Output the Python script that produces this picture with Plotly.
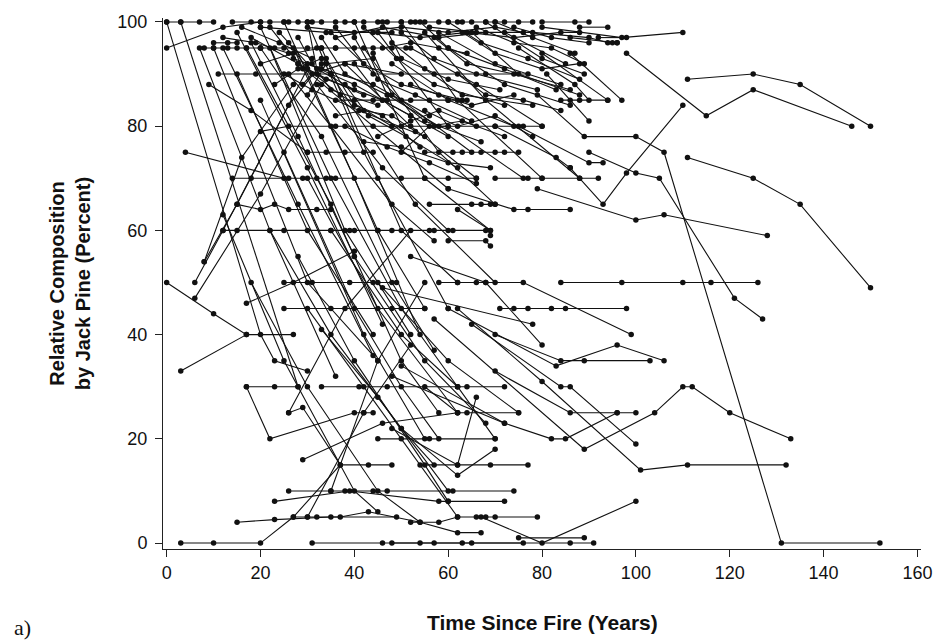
import plotly.graph_objects as go

# Re-measured stands: each trajectory is a list of (years since fire, % jack pine)

old_stands = [
    [(111, 89), (125, 90), (135, 88), (150, 80)],
    [(98, 94), (115, 82), (125, 87), (146, 80)],
    [(111, 74), (125, 70), (135, 65), (150, 49)],
    [(79, 86), (89, 78), (100, 78), (106, 75), (131, 0), (152, 0)],
    [(86, 72), (93, 65), (98, 71), (110, 84)],
    [(79, 68), (100, 62), (106, 63), (128, 59)],
    [(84, 50), (97, 50), (110, 50), (116, 50), (126, 50)],
    [(90, 75), (100, 71), (105, 70), (121, 47), (127, 43)],
    [(57, 43), (89, 18), (104, 25), (110, 30), (112, 30), (120, 25), (133, 20)],
    [(62, 45), (80, 31), (101, 14), (111, 15), (132, 15)],
    [(67, 5), (80, 0), (100, 8)],
    [(65, 42), (84, 30), (86, 30), (100, 19)],
    [(70, 40), (84, 35), (89, 35), (103, 35)],
    [(60, 45), (83, 34), (96, 38), (106, 35)],
    [(71, 45), (74, 45), (77, 45), (82, 45), (85, 45), (98, 45)],
    [(58, 50), (62, 50), (66, 50), (68, 50), (76, 50), (99, 40)],
    [(52, 55), (68, 50), (80, 38)],
    [(46, 49), (78, 42)],
    [(70, 33), (86, 25), (96, 25), (100, 25)],
    [(50, 34), (72, 23), (82, 20), (85, 20), (96, 25)],
]

late_upper = [
    [(80, 99), (97, 97), (110, 98)],
    [(88, 99), (94, 99)],
    [(86, 97), (95, 96), (96, 96)],
    [(92, 97), (98, 97)],
    [(80, 94), (94, 85)],
    [(86, 94), (97, 85)],
    [(81, 90), (90, 81)],
    [(84, 85), (86, 85), (88, 85), (94, 85)],
    [(70, 80), (83, 74), (86, 72)],
    [(75, 80), (90, 73), (93, 73)],
    [(70, 70), (77, 70), (80, 70), (88, 70), (92, 70)],
    [(56, 65), (65, 65), (67, 65), (69, 65), (70, 65)],
    [(60, 68), (74, 64), (77, 64), (86, 64)],
    [(60, 58), (68, 58), (69, 57)],
    [(62, 64), (69, 60), (69, 59)],
    [(57, 80), (70, 80), (76, 80), (80, 80)],
    [(44, 90), (57, 90), (68, 90), (77, 90)],
    [(55, 75), (61, 75), (63, 75), (67, 75), (70, 75), (72, 75), (75, 75)],
]

top_rows = [
    [(0, 100), (3, 100), (7, 100), (10, 100)],
    [(14, 100), (18, 100), (20, 100), (22, 100), (26, 100)],
    [(25, 100), (28, 100), (31, 100), (33, 100), (36, 100), (40, 100)],
    [(38, 100), (42, 100), (45, 100), (47, 100), (50, 100), (53, 100)],
    [(52, 100), (55, 100), (58, 100), (60, 100), (63, 100)],
    [(62, 100), (65, 100), (68, 100), (70, 100), (72, 100), (75, 100), (78, 100)],
    [(80, 100), (87, 100), (90, 100)],
    [(30, 99), (40, 98), (50, 99), (60, 98), (70, 99), (76, 98)],
    [(44, 98), (54, 97), (64, 98), (74, 97), (84, 98), (88, 98)],
    [(56, 99), (66, 98), (78, 98), (90, 97), (94, 96), (96, 96)],
    [(20, 99), (34, 98), (48, 98)],
    [(36, 97), (46, 99), (58, 97), (68, 98)],
    [(8, 95), (10, 95), (13, 95), (15, 95), (17, 95), (20, 95)],
    [(20, 95), (23, 95), (25, 95), (30, 95), (32, 95), (36, 95)],
    [(36, 95), (40, 95), (44, 95), (48, 95), (51, 95)],
    [(46, 95), (52, 96), (58, 95), (64, 94)],
    [(0, 95), (12, 99), (20, 100)],
    [(10, 96), (13, 96), (15, 96)],
]

dense_core = [
    [(24, 98), (30, 92), (40, 88), (52, 82)],
    [(26, 96), (30, 91), (37, 86), (48, 80)],
    [(28, 97), (31, 92), (35, 87), (45, 84)],
    [(18, 97), (28, 92), (32, 90), (42, 86)],
    [(22, 99), (29, 91), (34, 89), (46, 85)],
    [(30, 100), (32, 91), (40, 87)],
    [(27, 93), (33, 91), (44, 88), (56, 82)],
    [(29, 88), (31, 90), (38, 92), (50, 90)],
    [(30, 86), (34, 92), (44, 93)],
    [(25, 90), (31, 87), (41, 83), (55, 78)],
    [(33, 97), (38, 90), (47, 86), (58, 80)],
    [(36, 99), (42, 92), (50, 88), (63, 85)],
    [(40, 97), (45, 89), (53, 86), (65, 81)],
    [(42, 99), (49, 93), (57, 88), (72, 84)],
    [(46, 100), (50, 93), (60, 89), (71, 87)],
    [(48, 96), (55, 91), (63, 86), (78, 84)],
    [(50, 98), (57, 93), (66, 90), (79, 87)],
    [(54, 100), (60, 95), (72, 91), (83, 87)],
    [(57, 97), (64, 92), (74, 90), (86, 87)],
    [(60, 100), (67, 96), (77, 93), (88, 89)],
    [(63, 98), (70, 94), (80, 91), (88, 92)],
    [(66, 99), (74, 96), (82, 95), (89, 92)],
    [(70, 100), (78, 97), (87, 94)],
    [(74, 99), (82, 97), (90, 96)],
    [(34, 93), (40, 84), (46, 82), (54, 76)],
    [(38, 88), (43, 82), (51, 78), (62, 72)],
    [(40, 92), (46, 85), (52, 82), (60, 78)],
    [(44, 94), (48, 86), (55, 81), (67, 77)],
    [(16, 99), (24, 96), (31, 93)],
    [(12, 97), (19, 96), (26, 94)],
    [(20, 92), (27, 94), (33, 95)],
    [(23, 88), (28, 91), (33, 93)],
    [(36, 82), (42, 83), (48, 82), (53, 79)],
    [(45, 78), (52, 81), (58, 83), (66, 80)],
    [(50, 75), (56, 80), (63, 81), (72, 78)],
    [(52, 88), (58, 86), (65, 84), (74, 86)],
    [(55, 83), (62, 80), (70, 82), (78, 78)],
    [(62, 90), (68, 86), (76, 85), (84, 83)],
    [(38, 80), (47, 76), (56, 73), (66, 69)],
    [(42, 77), (50, 76), (60, 73), (69, 72)],
]

rows_mid = [
    [(9, 88), (18, 83), (30, 75)],
    [(11, 90), (19, 90), (35, 90)],
    [(20, 79), (26, 80), (36, 80), (50, 80), (60, 80)],
    [(4, 75), (25, 70)],
    [(8, 54), (16, 74), (27, 88)],
    [(14, 70), (18, 70), (26, 70), (29, 70), (32, 70), (34, 70)],
    [(36, 70), (45, 70), (50, 70), (55, 70), (60, 70), (66, 70)],
    [(30, 75), (34, 75), (38, 75), (44, 75)],
    [(36, 85), (40, 85), (44, 85), (47, 85), (52, 85), (56, 85), (60, 85), (64, 85)],
    [(15, 65), (20, 64), (23, 65), (26, 64), (32, 64), (35, 64)],
    [(12, 60), (15, 60), (25, 60), (35, 60), (39, 60)],
    [(40, 60), (45, 60), (48, 60), (56, 60), (57, 60), (61, 60), (68, 60)],
    [(25, 45), (35, 45), (48, 45), (55, 45)],
    [(25, 50), (31, 50), (39, 50), (44, 50), (49, 50)],
    [(17, 46), (27, 50), (40, 56)],
    [(3, 33), (17, 40)],
    [(0, 50), (10, 44), (17, 40), (27, 40)],
    [(6, 47), (20, 67), (33, 88)],
    [(6, 50), (12, 60), (26, 84), (33, 92)],
    [(8, 54), (15, 65), (30, 91)],
]

falling = [
    [(0, 100), (20, 40), (23, 35), (30, 33)],
    [(3, 100), (28, 30)],
    [(10, 95), (30, 50), (45, 35)],
    [(20, 99), (35, 70), (50, 45), (62, 30)],
    [(25, 100), (45, 60), (55, 45)],
    [(27, 95), (40, 70), (54, 40)],
    [(30, 100), (42, 75), (60, 45)],
    [(33, 95), (50, 60), (62, 50)],
    [(40, 100), (55, 70), (69, 60)],
    [(35, 90), (53, 65), (70, 50)],
    [(22, 95), (38, 60), (52, 40)],
    [(15, 90), (30, 60), (44, 40)],
    [(18, 96), (28, 78), (40, 55)],
    [(42, 95), (58, 75), (70, 65)],
    [(45, 98), (60, 80), (76, 70)],
    [(50, 100), (62, 85), (80, 70)],
    [(55, 98), (68, 85), (88, 70)],
    [(60, 95), (72, 88), (86, 84)],
    [(65, 98), (75, 90), (88, 86)],
    [(35, 98), (50, 85), (65, 75)],
    [(28, 92), (44, 80), (60, 68)],
    [(26, 90), (35, 80), (48, 65), (57, 58)],
    [(32, 88), (46, 72), (60, 60)],
    [(38, 92), (52, 80), (66, 70)],
    [(48, 92), (60, 85), (74, 80)],
    [(52, 95), (66, 88), (80, 80)],
    [(58, 98), (70, 92), (84, 88)],
    [(68, 100), (80, 93), (89, 90)],
    [(72, 98), (85, 92)],
    [(75, 95), (87, 88), (90, 85)],
    [(7, 95), (22, 60), (36, 32)],
    [(12, 95), (28, 65), (44, 36)],
    [(15, 98), (30, 72), (46, 42)],
    [(17, 95), (35, 65), (50, 35), (58, 25)],
    [(20, 95), (33, 78), (48, 50), (57, 37)],
]

lower = [
    [(3, 0), (10, 0), (20, 0), (27, 5), (37, 15), (43, 15), (48, 15)],
    [(54, 15), (62, 15), (69, 15), (77, 15)],
    [(15, 4), (23, 4.5), (35, 5), (49, 5)],
    [(27, 5), (30, 5), (32, 5), (37, 5), (43, 6), (54, 4), (62, 2), (67, 2)],
    [(23, 8), (38, 10), (39, 10), (58, 8), (60, 8), (72, 8)],
    [(26, 10), (35, 10), (44, 10), (47, 10), (61, 10), (74, 10)],
    [(29, 16), (46, 23), (62, 25)],
    [(17, 30), (22, 20), (40, 25), (42, 25), (44, 25)],
    [(26, 25), (29, 26), (37, 15)],
    [(17, 30), (23, 30), (28, 30)],
    [(33, 30), (41, 30), (47, 30), (62, 30), (64, 30), (72, 30)],
    [(55, 30), (62, 25), (64, 25), (75, 25)],
    [(48, 32), (72, 23)],
    [(48, 22), (62, 15), (66, 28)],
    [(50, 22), (62, 13), (70, 18)],
    [(45, 20), (56, 20), (70, 20)],
    [(52, 4), (58, 4), (62, 5), (66, 5), (68, 5), (70, 5), (79, 5)],
    [(31, 0), (46, 0), (54, 0), (63, 0), (76, 0)],
    [(48, 0), (57, 0), (65, 0), (86, 0), (91, 0)],
    [(75, 1), (89, 1)],
    [(20, 85), (42, 40), (55, 20)],
    [(25, 75), (40, 45), (50, 30), (58, 20)],
    [(30, 70), (45, 45), (62, 25)],
    [(35, 60), (50, 40), (62, 30), (70, 20)],
    [(40, 55), (55, 35), (68, 23)],
    [(45, 50), (60, 35), (75, 25)],
    [(22, 60), (35, 40), (50, 22), (57, 15)],
    [(28, 55), (40, 35), (55, 15), (60, 8)],
    [(30, 45), (42, 30), (50, 20), (62, 5)],
    [(12, 63), (25, 35), (40, 10), (45, 6)],
    [(18, 50), (30, 30), (45, 10), (54, 4)],
    [(33, 41), (45, 28), (60, 10)],
    [(26, 25), (38, 45), (52, 60)],
    [(30, 5), (42, 25), (52, 38)],
    [(35, 10), (45, 35), (55, 50)],
]

groups = [old_stands, late_upper, top_rows, dense_core, rows_mid, falling, lower]

fig = go.Figure()
for group in groups:
    for stand in group:
        fig.add_trace(go.Scatter(
            x=[p[0] for p in stand],
            y=[p[1] for p in stand],
            mode="lines+markers",
            line=dict(color="#111111", width=1.1),
            marker=dict(color="#111111", size=5.5),
            showlegend=False,
            hoverinfo="skip",
        ))

sans = "Arial, 'Liberation Sans', sans-serif"
axis_font = dict(family=sans, size=18, color="#111111")
common_axis = dict(
    showline=True, linecolor="#222222", linewidth=1,
    ticks="outside", ticklen=7, tickcolor="#222222", tickwidth=1,
    showgrid=False, zeroline=False, tickfont=axis_font,
)

fig.update_layout(
    width=944, height=643,
    margin=dict(l=163, r=19, t=13, b=94),
    paper_bgcolor="white", plot_bgcolor="white",
    xaxis=dict(range=[-0.78, 160.76], tickvals=[0, 20, 40, 60, 80, 100, 120, 140, 160], **common_axis),
    yaxis=dict(range=[-1.14, 100.76], tickvals=[0, 20, 40, 60, 80, 100], ticklabelstandoff=4, **common_axis),
    annotations=[
        dict(text="<b>Time Since Fire (Years)</b>", xref="paper", yref="paper",
             x=0.501, y=-0.138, xanchor="center", yanchor="middle", showarrow=False,
             font=dict(family=sans, size=21, color="#111111")),
        dict(text="<b>Relative Composition<br>by Jack Pine (Percent)</b>", xref="paper", yref="paper",
             x=-0.123, y=0.5, xanchor="center", yanchor="middle", textangle=-90, showarrow=False,
             font=dict(family=sans, size=20, color="#111111")),
        dict(text="a)", xref="paper", yref="paper",
             x=(22 - 163) / 762, y=(549 - 628) / 536, xanchor="center", yanchor="middle", showarrow=False,
             font=dict(family="'Times New Roman', 'Liberation Serif', serif", size=22, color="#111111")),
    ],
)

fig.write_html("out.html")
